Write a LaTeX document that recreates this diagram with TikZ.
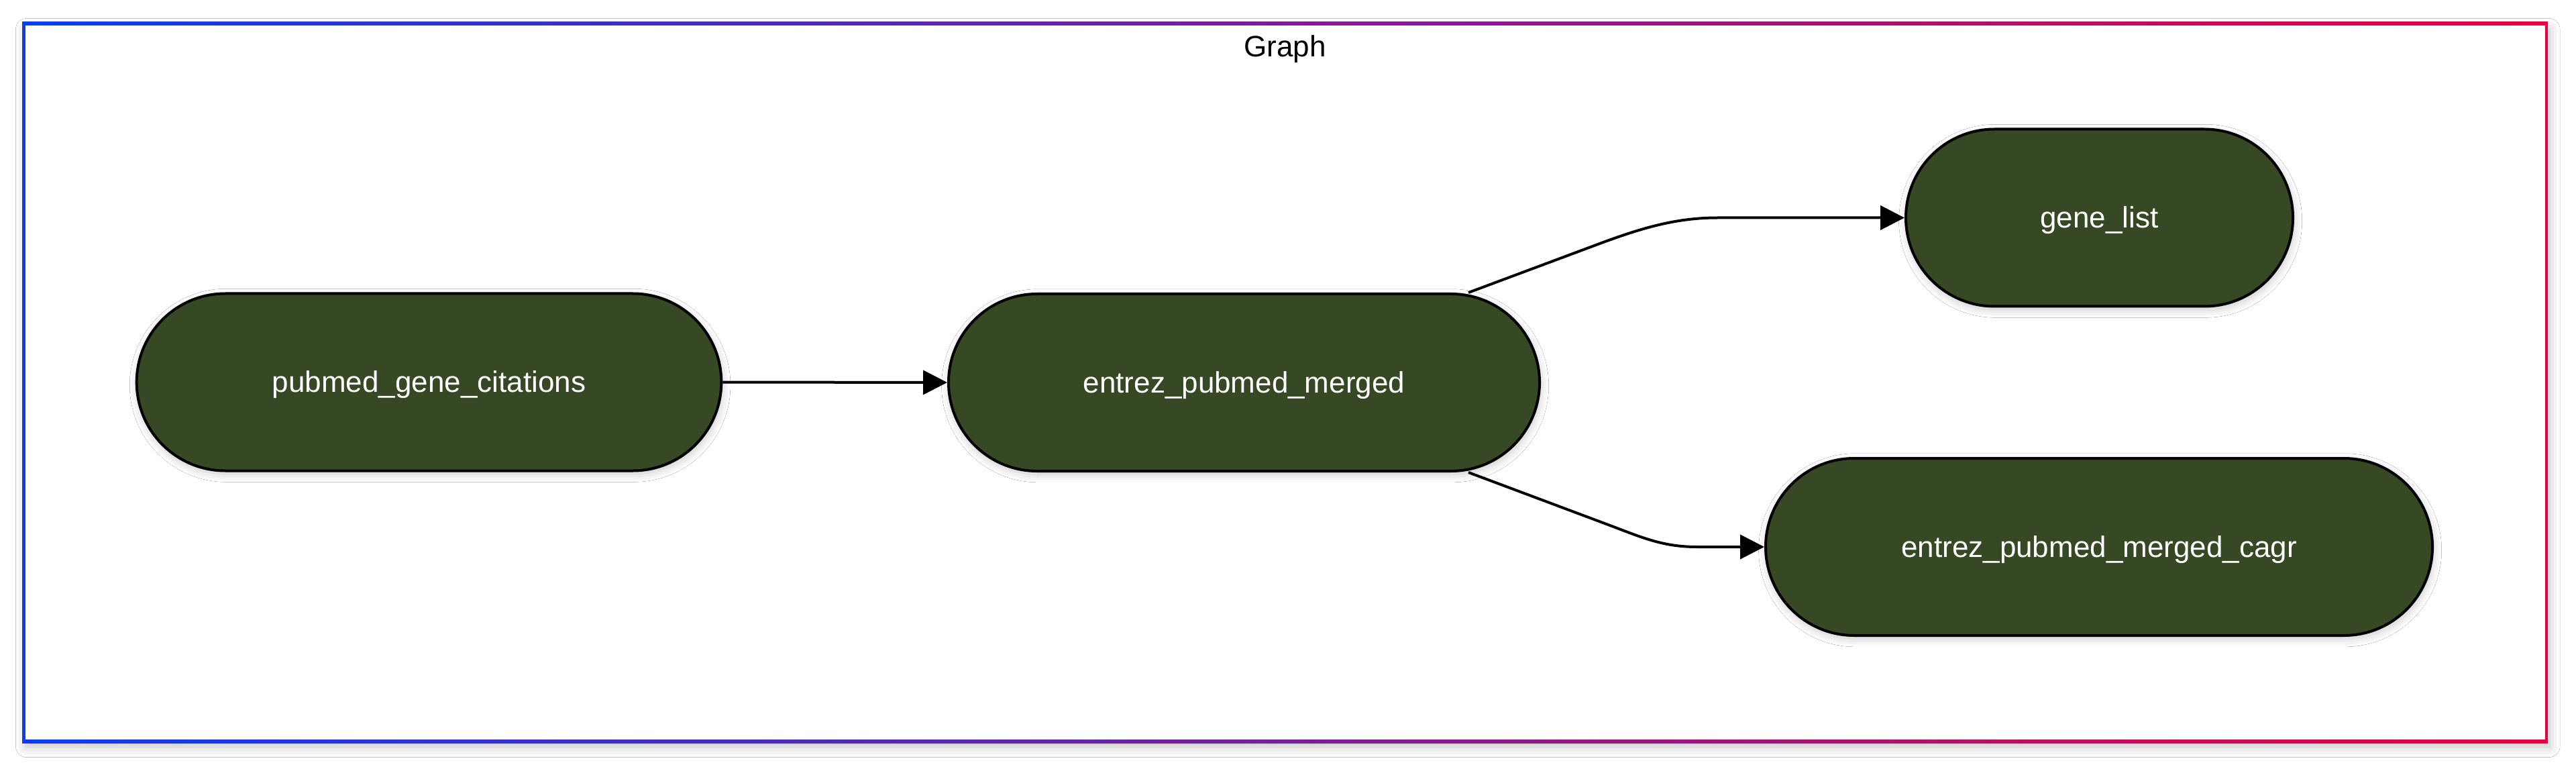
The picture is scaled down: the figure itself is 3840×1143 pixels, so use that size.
\documentclass[tikz,border=0pt]{standalone}
\usepackage{fontspec}
\setmainfont{Liberation Sans}
\usetikzlibrary{arrows.meta,shadows.blur}
\definecolor{nodefill}{HTML}{374825}
\definecolor{frameblue}{HTML}{0A3CF2}
\definecolor{framered}{HTML}{EA0040}
\begin{document}
\begin{tikzpicture}[x=0.25pt,y=-0.25pt,
  proc/.style={draw=black, line width=1pt, fill=nodefill, text=white,
    rounded corners=33pt, minimum height=66pt, inner sep=0pt,
    font=\fontsize{11pt}{13pt}\selectfont, text height=9.96pt, text depth=2.33pt,
    blur shadow={shadow xshift=0.4pt, shadow yshift=-1.2pt, shadow blur radius=3pt, shadow opacity=22}},
  link/.style={draw=black, line width=1pt, -{Triangle[length=9pt,width=9pt]}},
  title/.style={font=\fontsize{11pt}{13pt}\selectfont, text=black, anchor=base, inner sep=0pt}]
\useasboundingbox (0,0) rectangle (3840,1143);
\fill[white] (0,0) rectangle (3840,1143);
% frame with soft shadow
\path[fill=white, blur shadow={shadow xshift=1pt, shadow yshift=-2pt, shadow blur radius=4pt, shadow opacity=25}] (35.5,35.5) rectangle (3796,1104.5);
\shade[left color=frameblue, right color=framered] (33,33) rectangle (3798,38);
\shade[left color=frameblue, right color=framered] (33,1102) rectangle (3798,1107);
\fill[frameblue] (33,33) rectangle (38,1107);
\fill[framered] (3794,33) rectangle (3798,1107);
\node[title] (ttl) at (1915.5,85) {Graph};
% nodes
\node[proc, minimum width=217.9pt] (pgc) at (639.5,569.5) {pubmed\_gene\_citations};
\node[proc, minimum width=220.25pt] (epm) at (1854.5,570) {entrez\_pubmed\_merged};
\node[proc, minimum width=144.25pt] (gl) at (3129.5,324.5) {gene\_list};
\node[proc, minimum width=248.5pt] (cagr) at (3129,815) {entrez\_pubmed\_merged\_cagr};
% edges
\draw[link] (pgc.east) -- (epm.west);
\draw[link] ([xshift=-27pt]epm.north east) -- (2390,361) .. controls (2450,339) and (2500,324.5) .. (2560,324.5) -- (gl.west);
\draw[link] ([xshift=-27pt]epm.south east) -- (2400,783) .. controls (2450,802) and (2480,815) .. (2530,815) -- (cagr.west);
\end{tikzpicture}
\end{document}
